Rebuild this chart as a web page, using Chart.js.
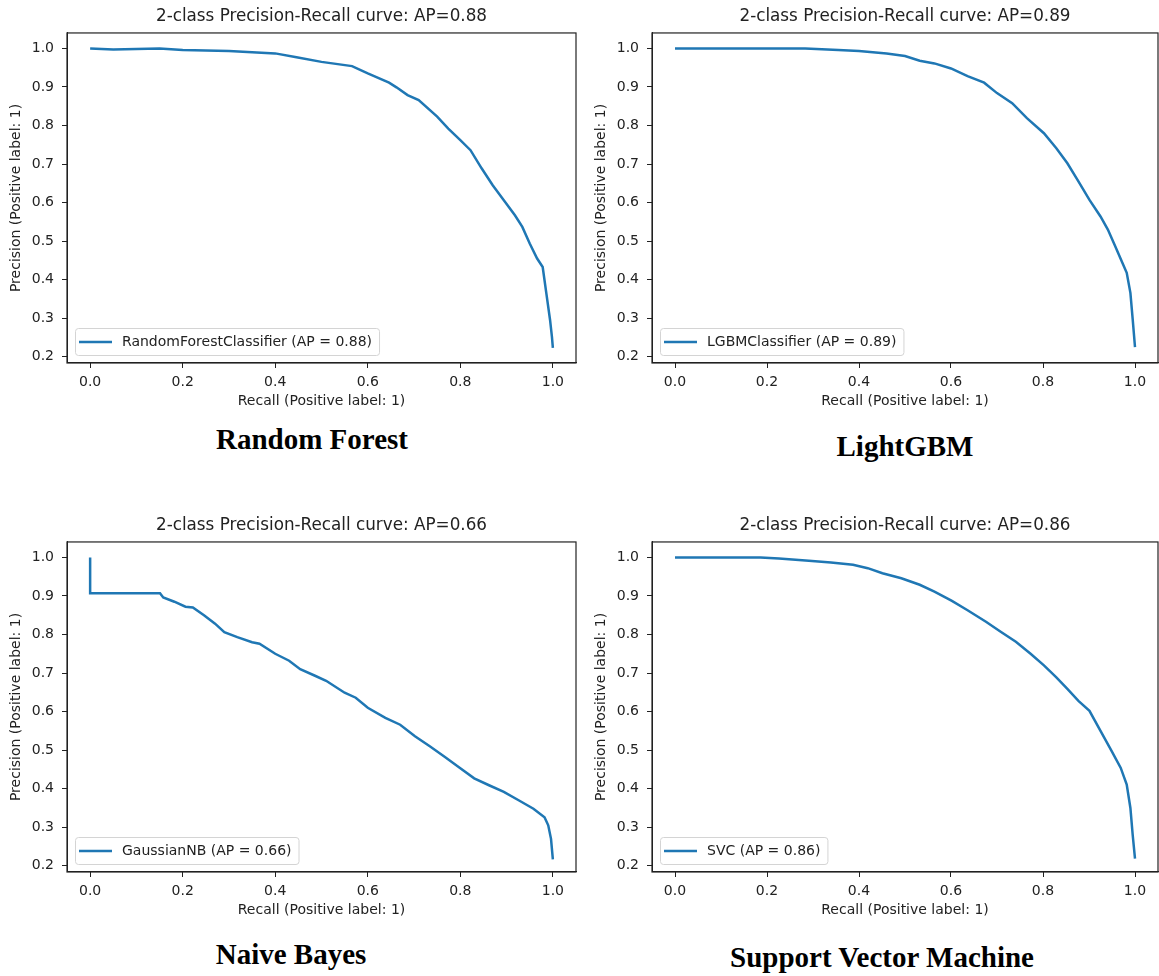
<!DOCTYPE html>
<html lang="en">
<head>
    <meta charset="UTF-8">
    <title>Precision-Recall curves</title>
    <script src="https://cdn.jsdelivr.net/npm/chart.js@4.4.0/dist/chart.umd.min.js"></script>
    <style>
        body {
            margin: 0;
            background: #fff;
            width: 1159px;
            height: 976px;
            position: relative;
            overflow: hidden;
        }

        .panel {
            position: absolute;
        }

        .caption {
            position: absolute;
            font-family: "Liberation Serif", "Times New Roman", serif;
            font-weight: bold;
            font-size: 29px;
            line-height: 29px;
            color: #000;
            transform: translateX(-50%);
            white-space: nowrap;
        }
    </style>
</head>
<body>
    <canvas id="rfChart" class="panel" width="580" height="414" style="left:0;top:0"></canvas>
    <canvas id="lgbmChart" class="panel" width="574" height="414" style="left:585px;top:0"></canvas>
    <canvas id="nbChart" class="panel" width="580" height="414" style="left:0;top:509px"></canvas>
    <canvas id="svcChart" class="panel" width="574" height="414" style="left:585px;top:509px"></canvas>

    <div class="caption" style="left:312px;top:425px">Random Forest</div>
    <div class="caption" style="left:905px;top:432px">LightGBM</div>
    <div class="caption" style="left:291px;top:940px">Naive Bayes</div>
    <div class="caption" style="left:882px;top:943px">Support Vector Machine</div>

    <script>
        const xTicks = [0.0, 0.2, 0.4, 0.6, 0.8, 1.0];
        const yTicks = [0.2, 0.3, 0.4, 0.5, 0.6, 0.7, 0.8, 0.9, 1.0];

        // Random Forest
        const rfRecall = [0, 0.05, 0.15, 0.2, 0.3, 0.4, 0.446, 0.5, 0.566, 0.6, 0.646, 0.662, 0.686, 0.71, 0.75, 0.774, 0.8, 0.822, 0.846, 0.87, 0.894, 0.918, 0.934, 0.95, 0.966, 0.978, 0.986, 0.994, 0.998, 1.0];
        const rfPrecision = [1.0, 0.997, 1.0, 0.996, 0.993, 0.987, 0.977, 0.965, 0.954, 0.935, 0.911, 0.899, 0.879, 0.866, 0.823, 0.792, 0.762, 0.736, 0.689, 0.645, 0.606, 0.567, 0.537, 0.494, 0.455, 0.433, 0.364, 0.295, 0.252, 0.223];

        // LightGBM
        const lgbmRecall = [0, 0.283, 0.355, 0.4, 0.46, 0.5, 0.532, 0.564, 0.6, 0.636, 0.672, 0.7, 0.733, 0.765, 0.802, 0.829, 0.853, 0.877, 0.901, 0.925, 0.941, 0.957, 0.973, 0.982, 0.99, 0.995, 0.998, 1.0];
        const lgbmPrecision = [1.0, 1.0, 0.996, 0.993, 0.987, 0.98, 0.968, 0.961, 0.948, 0.928, 0.911, 0.884, 0.858, 0.819, 0.78, 0.741, 0.702, 0.655, 0.607, 0.564, 0.53, 0.487, 0.443, 0.418, 0.366, 0.297, 0.254, 0.225];

        // Naive Bayes
        const nbRecall = [0, 0, 0.151, 0.158, 0.182, 0.206, 0.222, 0.246, 0.27, 0.29, 0.318, 0.35, 0.366, 0.4, 0.43, 0.454, 0.486, 0.51, 0.55, 0.574, 0.6, 0.638, 0.67, 0.702, 0.734, 0.766, 0.8, 0.83, 0.862, 0.894, 0.926, 0.958, 0.982, 0.99, 0.996, 1.0];
        const nbPrecision = [1.0, 0.907, 0.907, 0.896, 0.885, 0.872, 0.87, 0.85, 0.828, 0.806, 0.793, 0.78, 0.776, 0.75, 0.732, 0.71, 0.693, 0.68, 0.649, 0.636, 0.61, 0.584, 0.566, 0.536, 0.51, 0.483, 0.453, 0.427, 0.409, 0.392, 0.37, 0.348, 0.326, 0.305, 0.27, 0.217];

        // Support Vector Machine
        const svcRecall = [0, 0.186, 0.226, 0.291, 0.339, 0.387, 0.419, 0.451, 0.492, 0.532, 0.564, 0.602, 0.636, 0.676, 0.708, 0.741, 0.773, 0.802, 0.829, 0.853, 0.877, 0.901, 0.925, 0.949, 0.969, 0.982, 0.99, 0.995, 1.0];
        const svcPrecision = [1.0, 1.0, 0.997, 0.991, 0.987, 0.981, 0.972, 0.959, 0.946, 0.929, 0.911, 0.887, 0.863, 0.833, 0.807, 0.781, 0.75, 0.72, 0.689, 0.659, 0.628, 0.602, 0.55, 0.498, 0.454, 0.411, 0.35, 0.28, 0.219];

        const panelTitles = [
            '2-class Precision-Recall curve: AP=0.88',
            '2-class Precision-Recall curve: AP=0.89',
            '2-class Precision-Recall curve: AP=0.66',
            '2-class Precision-Recall curve: AP=0.86'
        ];
        const legendLabels = [
            'RandomForestClassifier (AP = 0.88)',
            'LGBMClassifier (AP = 0.89)',
            'GaussianNB (AP = 0.66)',
            'SVC (AP = 0.86)'
        ];

        const textColor = '#222';
        const lineColor = '#1f77b4';
        const tickFont = { family: 'DejaVu Sans', size: 14 };

        Chart.defaults.font.family = 'DejaVu Sans';
        Chart.defaults.color = textColor;

        // full box around the plotting area, like matplotlib spines
        const axesFrame = {
            id: 'axesFrame',
            afterDatasetsDraw(chart) {
                const { ctx, chartArea: a } = chart;
                ctx.save();
                ctx.strokeStyle = textColor;
                ctx.lineWidth = 1.2;
                ctx.strokeRect(a.left, a.top, a.right - a.left, a.bottom - a.top);
                ctx.restore();
            }
        };

        // legend box in the lower left corner of the axes
        const cornerLegend = {
            id: 'cornerLegend',
            afterDraw(chart) {
                const { ctx, chartArea: a } = chart;
                const ds = chart.data.datasets[0];
                ctx.save();
                ctx.font = tickFont.size + 'px "DejaVu Sans"';
                const textW = ctx.measureText(ds.label).width;
                const h = 27;
                const x = a.left + 8;
                const y = a.bottom - 8 - h;
                ctx.beginPath();
                ctx.roundRect(x + 0.5, y + 0.5, 47 + textW + 7, h, 3);
                ctx.fillStyle = 'rgba(255,255,255,0.8)';
                ctx.fill();
                ctx.strokeStyle = '#d4d4d4';
                ctx.lineWidth = 1;
                ctx.stroke();
                ctx.strokeStyle = ds.borderColor;
                ctx.lineWidth = ds.borderWidth;
                ctx.beginPath();
                ctx.moveTo(x + 4, y + h / 2 + 0.5);
                ctx.lineTo(x + 37, y + h / 2 + 0.5);
                ctx.stroke();
                ctx.fillStyle = textColor;
                ctx.textBaseline = 'middle';
                ctx.fillText(ds.label, x + 47, y + h / 2 + 1);
                ctx.restore();
            }
        };

        function prChart(id, title, label, recall, precision, padRight) {
            return new Chart(document.getElementById(id), {
                type: 'line',
                data: {
                    datasets: [{
                        label: label,
                        data: recall.map((r, i) => ({ x: r, y: precision[i] })),
                        borderColor: lineColor,
                        borderWidth: 2.5,
                        pointRadius: 0,
                        tension: 0,
                        fill: false
                    }]
                },
                options: {
                    responsive: false,
                    animation: false,
                    events: [],
                    layout: { padding: { left: 0, right: padRight, top: 0, bottom: 0 } },
                    plugins: {
                        legend: { display: false },
                        tooltip: { enabled: false },
                        title: {
                            display: true,
                            text: title,
                            fullSize: false,
                            color: textColor,
                            font: { family: 'DejaVu Sans', size: 16.8, weight: 'normal', lineHeight: 1.2 },
                            padding: { top: 7, bottom: 5.8 }
                        }
                    },
                    scales: {
                        x: {
                            type: 'linear',
                            min: -0.05,
                            max: 1.05,
                            afterFit(s) { s.height = 51; },
                            afterBuildTicks(s) { s.ticks = xTicks.map(v => ({ value: v })); },
                            ticks: { callback: v => v.toFixed(1), font: tickFont, color: textColor, padding: 6, maxRotation: 0, autoSkip: false },
                            grid: { drawOnChartArea: false, drawTicks: true, tickLength: 5, color: textColor },
                            border: { display: true, color: textColor },
                            title: { display: true, text: 'Recall (Positive label: 1)', font: tickFont, color: textColor, padding: { top: 0, bottom: 4 } }
                        },
                        y: {
                            type: 'linear',
                            min: 0.184,
                            max: 1.04,
                            afterFit(s) { s.width = 67; },
                            afterBuildTicks(s) { s.ticks = yTicks.map(v => ({ value: v })); },
                            ticks: { callback: v => v.toFixed(1), font: tickFont, color: textColor, padding: 8, autoSkip: false },
                            grid: { drawOnChartArea: false, drawTicks: true, tickLength: 5, color: textColor },
                            border: { display: true, color: textColor },
                            title: { display: true, text: 'Precision (Positive label: 1)', font: tickFont, color: textColor, padding: { top: 8, bottom: 0 } }
                        }
                    }
                },
                plugins: [axesFrame, cornerLegend]
            });
        }

        prChart('rfChart', panelTitles[0], legendLabels[0], rfRecall, rfPrecision, 4);
        prChart('lgbmChart', panelTitles[1], legendLabels[1], lgbmRecall, lgbmPrecision, 1);
        prChart('nbChart', panelTitles[2], legendLabels[2], nbRecall, nbPrecision, 4);
        prChart('svcChart', panelTitles[3], legendLabels[3], svcRecall, svcPrecision, 1);
    </script>
</body>
</html>
